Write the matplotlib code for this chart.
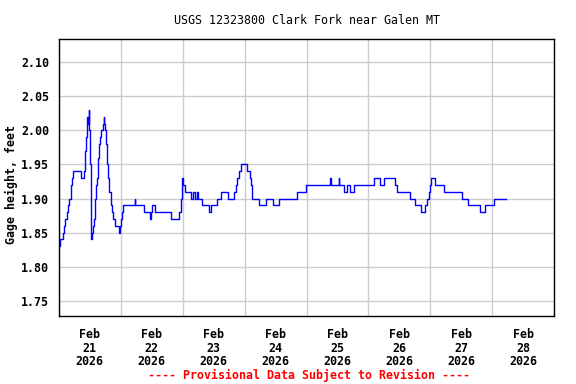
import numpy as np
import matplotlib
matplotlib.use("Agg")
import matplotlib.pyplot as plt
from matplotlib.ticker import MultipleLocator, FixedLocator, FixedFormatter

# hours since Feb 21 00:00 where the gage reading changes, and the new reading
hours = [0.0, 0.53, 1.82, 2.08, 2.59, 3.11, 3.63, 4.14, 4.66, 4.92, 5.17, 5.43,
         8.53, 9.82, 10.08, 10.34, 10.59, 10.85, 11.11, 11.37, 11.63, 11.88,
         12.14, 12.40, 12.66, 12.92, 13.17, 13.69, 13.95, 14.21, 14.47, 14.72,
         15.24, 15.50, 16.01, 16.53, 17.05, 17.43, 17.69, 18.08, 18.34, 18.85,
         19.11, 19.63, 20.14, 20.66, 21.17, 21.69, 23.24, 23.62, 24.27, 24.53,
         25.05, 29.43, 29.69, 33.05, 35.37, 35.63, 36.14, 37.17, 43.37, 46.72,
         47.24, 47.76, 48.27, 49.05, 51.37, 51.88, 52.66, 53.43, 53.95, 55.50,
         58.08, 59.11, 61.43, 62.98, 65.56, 68.01, 68.53, 69.05, 69.82, 70.60,
         72.92, 73.95, 74.47, 74.98, 77.56, 80.14, 82.98, 85.31, 92.27, 95.89,
         105.18, 105.43, 108.40, 108.66, 110.34, 111.88, 112.66, 114.47, 122.21,
         124.53, 126.08, 130.46, 130.98, 136.14, 137.95, 140.28, 141.82, 142.60,
         143.37, 143.89, 144.40, 145.95, 149.31, 156.27, 158.60, 163.24, 165.31,
         168.66, 173.31]
gage = [1.83, 1.84, 1.85, 1.86, 1.87, 1.88, 1.89, 1.90, 1.91, 1.92, 1.93, 1.94,
        1.93, 1.94, 1.95, 1.97, 1.99, 2.01, 2.02, 2.01, 2.03, 2.00,
        1.95, 1.85, 1.84, 1.85, 1.86, 1.87, 1.89, 1.90, 1.92, 1.93,
        1.96, 1.98, 1.99, 2.00, 2.01, 2.02, 2.01, 2.00, 1.98, 1.95,
        1.93, 1.91, 1.89, 1.88, 1.87, 1.86, 1.85, 1.86, 1.87, 1.88,
        1.89, 1.90, 1.89, 1.88, 1.87, 1.88, 1.89, 1.88, 1.87, 1.88,
        1.90, 1.93, 1.92, 1.91, 1.90, 1.91, 1.90, 1.91, 1.90, 1.89,
        1.88, 1.89, 1.90, 1.91, 1.90, 1.91, 1.92, 1.93, 1.94, 1.95,
        1.94, 1.93, 1.92, 1.90, 1.89, 1.90, 1.89, 1.90, 1.91, 1.92,
        1.93, 1.92, 1.93, 1.92, 1.91, 1.92, 1.91, 1.92, 1.93,
        1.92, 1.93, 1.92, 1.91, 1.90, 1.89, 1.88, 1.89, 1.90,
        1.91, 1.92, 1.93, 1.92, 1.91, 1.90, 1.89, 1.88, 1.89,
        1.90, 1.90]

day_labels = ["Feb\n21\n2026", "Feb\n22\n2026", "Feb\n23\n2026", "Feb\n24\n2026",
              "Feb\n25\n2026", "Feb\n26\n2026", "Feb\n27\n2026", "Feb\n28\n2026"]

plt.rcParams['font.family'] = 'DejaVu Sans Mono'
plt.rcParams['font.weight'] = 'bold'
fs = 8.4

fig = plt.figure(figsize=(5.76, 3.84), dpi=100)
ax = fig.add_axes([58.7/576, 68/384, 495.6/576, 277/384])

ax.plot(hours, gage, drawstyle='steps-post', color='#0000ff', lw=1.0)

ax.set_xlim(0, 192)
ax.set_ylim(1.7275, 2.1342)
ax.xaxis.set_major_locator(MultipleLocator(24))
ax.xaxis.set_minor_locator(FixedLocator([12 + 24*i for i in range(len(day_labels))]))
ax.xaxis.set_minor_formatter(FixedFormatter(day_labels))
ax.set_xticklabels([])
ax.yaxis.set_major_locator(MultipleLocator(0.05))
ax.yaxis.set_major_formatter(plt.FormatStrFormatter('%.2f'))

ax.grid(True, which='major', color='#cccccc', lw=1.0)
ax.set_axisbelow(True)
ax.tick_params(which='both', length=0)
ax.tick_params(axis='x', which='minor', pad=9, labelsize=fs)
ax.tick_params(axis='y', pad=7, labelsize=fs)
for lab in ax.get_xticklabels(minor=True):
    lab.set_linespacing(1.02)
for s in ax.spines.values():
    s.set_color('black')
    s.set_linewidth(1.0)

fig.text(11/576, 1 - 184/384, "Gage height, feet", fontsize=fs,
         rotation=90, ha='center', va='center')
ax.set_title("USGS 12323800 Clark Fork near Galen MT", fontsize=fs, pad=10.5)
fig.text(309/576, 1 - 375/384, "---- Provisional Data Subject to Revision ----",
         color='red', fontsize=fs, ha='center', va='center')

fig.savefig("out.png", dpi=100)
